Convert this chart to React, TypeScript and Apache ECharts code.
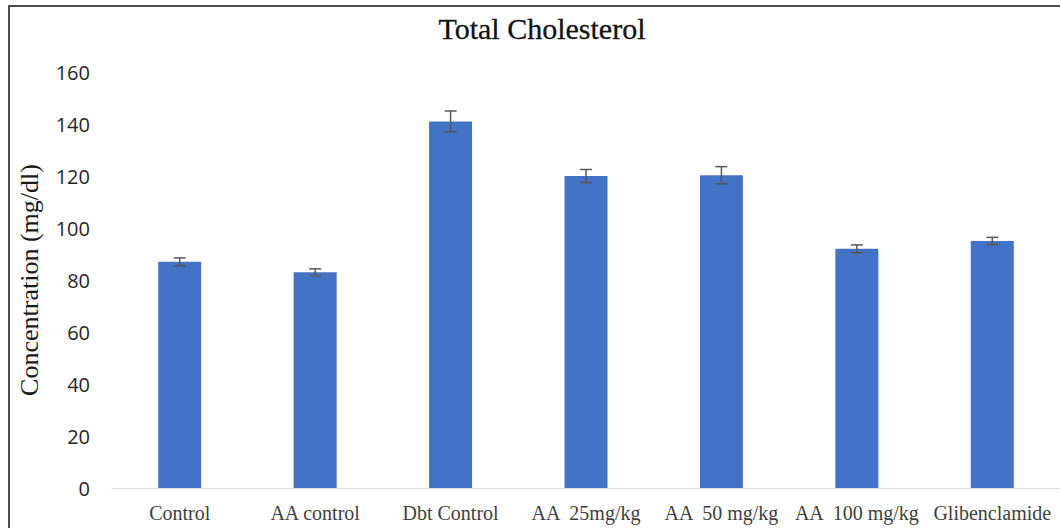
import React, { useEffect, useRef } from "react";
import * as echarts from "echarts";

const categories = ["Control", "AA control", "Dbt Control", "AA  25mg/kg", "AA  50 mg/kg", "AA  100 mg/kg", "Glibenclamide"];
const means = [87, 83, 141, 120, 120.3, 92, 95];
const errors = [1.5, 1.3, 4, 2.5, 3.3, 1.5, 1.4];
const yTicks = { min: 0, max: 160, interval: 20 };

export default function App() {
  const ref = useRef<HTMLDivElement>(null);
  useEffect(() => {
    const chart = echarts.init(ref.current!, null, { renderer: "svg" });
    const errData = means.map((m, i) => [i, m - errors[i], m + errors[i]]);
    chart.setOption({
      animation: false,
      backgroundColor: "#ffffff",
      title: {
        text: "Total Cholesterol",
        left: 537,
        textAlign: "center",
        top: 8,
        textStyle: { fontFamily: "Liberation Serif", fontSize: 30, fontWeight: "normal", color: "#111111", textBorderColor: "#111111", textBorderWidth: 0.3 },
      },
      graphic: [
        {
          type: "polyline",
          shape: { points: [[9, 600], [9, 6], [1100, 6]] },
          style: { stroke: "#4a4a4a", lineWidth: 2, fill: "none" },
          silent: true,
        },
      ],
      grid: { left: 112, right: 0, top: 72, bottom: 40 },
      xAxis: {
        type: "category",
        data: categories,
        axisLine: { show: true, lineStyle: { color: "#d9d9d9", width: 1 } },
        axisTick: { show: false },
        axisLabel: {
          interval: 0,
          margin: 15,
          fontFamily: "Liberation Serif",
          fontSize: 20,
          color: "#404040",
        },
      },
      yAxis: {
        type: "value",
        min: yTicks.min,
        max: yTicks.max,
        interval: yTicks.interval,
        name: "Concentration (mg/dl)",
        nameLocation: "middle",
        nameGap: 70,
        nameRotate: 90,
        nameTextStyle: { fontFamily: "Liberation Serif", fontSize: 26, color: "#1a1a1a" },
        axisLine: { show: false },
        axisTick: { show: false },
        splitLine: { show: false },
        axisLabel: { margin: 22, fontFamily: "Open Sans", fontSize: 20, color: "#262626" },
      },
      series: [
        {
          type: "bar",
          data: means,
          barWidth: 43,
          itemStyle: { color: "#4472C4" },
        },
        {
          type: "custom",
          data: errData,
          z: 10,
          renderItem: (params: any, api: any) => {
            const x = api.value(0);
            const lo = api.coord([x, api.value(1)]);
            const hi = api.coord([x, api.value(2)]);
            const hw = 6;
            const style = { stroke: "#595959", lineWidth: 1.5 };
            return {
              type: "group",
              children: [
                { type: "line", shape: { x1: lo[0], y1: lo[1], x2: hi[0], y2: hi[1] }, style },
                { type: "line", shape: { x1: hi[0] - hw, y1: hi[1], x2: hi[0] + hw, y2: hi[1] }, style },
                { type: "line", shape: { x1: lo[0] - hw, y1: lo[1], x2: lo[0] + hw, y2: lo[1] }, style },
              ],
            };
          },
        },
      ],
    });
    return () => chart.dispose();
  }, []);
  return <div ref={ref} style={{ position: "absolute", left: 0, top: 0, width: 1060, height: 528 }} />;
}
